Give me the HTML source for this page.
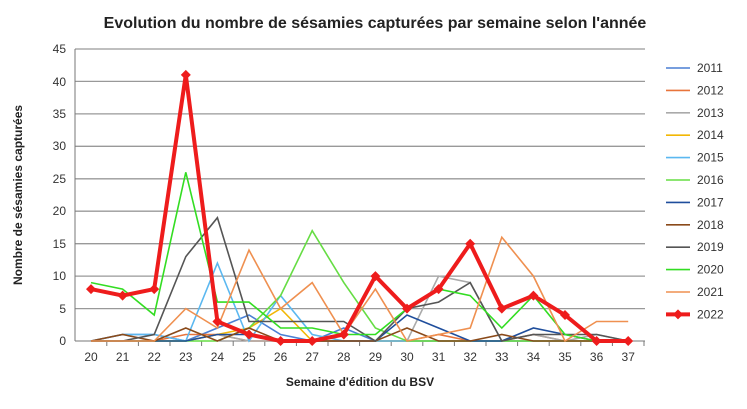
<!DOCTYPE html><html><head><meta charset="utf-8"><style>body{margin:0;background:#fff}svg{display:block}</style></head><body>
<svg width="747" height="409" xmlns="http://www.w3.org/2000/svg" font-family="Liberation Sans, sans-serif">
<text x="375" y="28" text-anchor="middle" font-size="16" font-weight="bold" fill="#222">Evolution du nombre de sésamies capturées par semaine selon l'année</text>
<g stroke="#999" stroke-width="1.3">
<line x1="75" y1="49" x2="645" y2="49"/><line x1="75" y1="81.4" x2="645" y2="81.4"/><line x1="75" y1="113.9" x2="645" y2="113.9"/><line x1="75" y1="146.3" x2="645" y2="146.3"/><line x1="75" y1="178.8" x2="645" y2="178.8"/><line x1="75" y1="211.2" x2="645" y2="211.2"/><line x1="75" y1="243.7" x2="645" y2="243.7"/><line x1="75" y1="276.1" x2="645" y2="276.1"/><line x1="75" y1="308.6" x2="645" y2="308.6"/>
</g>
<line x1="75" y1="49" x2="75" y2="341" stroke="#777"/><line x1="75" y1="341" x2="645" y2="341" stroke="#777"/>
<g font-size="12" fill="#333" text-anchor="end">
<text x="66" y="345">0</text><text x="66" y="313">5</text><text x="66" y="280">10</text><text x="66" y="248">15</text><text x="66" y="215">20</text><text x="66" y="183">25</text><text x="66" y="150">30</text><text x="66" y="118">35</text><text x="66" y="86">40</text><text x="66" y="53">45</text>
</g>
<g font-size="12" fill="#333" text-anchor="middle">
<text x="91" y="361">20</text><text x="122.6" y="361">21</text><text x="154.2" y="361">22</text><text x="185.8" y="361">23</text><text x="217.4" y="361">24</text><text x="249" y="361">25</text><text x="280.6" y="361">26</text><text x="312.2" y="361">27</text><text x="343.8" y="361">28</text><text x="375.4" y="361">29</text><text x="407" y="361">30</text><text x="438.6" y="361">31</text><text x="470.2" y="361">32</text><text x="501.8" y="361">33</text><text x="533.4" y="361">34</text><text x="565" y="361">35</text><text x="596.6" y="361">36</text><text x="628.2" y="361">37</text>
</g>
<g stroke="#777">
<line x1="106.8" y1="341" x2="106.8" y2="346"/><line x1="138.4" y1="341" x2="138.4" y2="346"/><line x1="170" y1="341" x2="170" y2="346"/><line x1="201.6" y1="341" x2="201.6" y2="346"/><line x1="233.2" y1="341" x2="233.2" y2="346"/><line x1="264.8" y1="341" x2="264.8" y2="346"/><line x1="296.4" y1="341" x2="296.4" y2="346"/><line x1="328" y1="341" x2="328" y2="346"/><line x1="359.6" y1="341" x2="359.6" y2="346"/><line x1="391.2" y1="341" x2="391.2" y2="346"/><line x1="422.8" y1="341" x2="422.8" y2="346"/><line x1="454.4" y1="341" x2="454.4" y2="346"/><line x1="486" y1="341" x2="486" y2="346"/><line x1="517.6" y1="341" x2="517.6" y2="346"/><line x1="549.2" y1="341" x2="549.2" y2="346"/><line x1="580.8" y1="341" x2="580.8" y2="346"/><line x1="612.4" y1="341" x2="612.4" y2="346"/><line x1="644" y1="341" x2="644" y2="346"/>
</g>
<text x="360" y="386" text-anchor="middle" font-size="12" font-weight="bold" fill="#222">Semaine d'édition du BSV</text>
<text transform="translate(22,195) rotate(-90)" text-anchor="middle" font-size="12" font-weight="bold" fill="#222">Nombre de sésamies capturées</text>
<g fill="none" stroke-width="1.6">
<polyline stroke="#4a7fd4" points="91,341 122.6,334.5 154.2,334.5 185.8,341 217.4,328 249,315 280.6,334.5 312.2,341 343.8,328 375.4,341 407,341 438.6,341 470.2,341 501.8,341 533.4,341 565,341 596.6,341 628.2,341"/>
<polyline stroke="#e8743b" points="91,341 122.6,341 154.2,341 185.8,334.5 217.4,334.5 249,341 280.6,341 312.2,341 343.8,341 375.4,341 407,341 438.6,334.5 470.2,341 501.8,341 533.4,334.5 565,341 596.6,341 628.2,341"/>
<polyline stroke="#aaa" points="91,341 122.6,341 154.2,341 185.8,341 217.4,334.5 249,341 280.6,341 312.2,341 343.8,341 375.4,341 407,341 438.6,276.1 470.2,282.6 501.8,341 533.4,334.5 565,341 596.6,334.5 628.2,341"/>
<polyline stroke="#f2b705" points="91,341 122.6,341 154.2,341 185.8,341 217.4,334.5 249,328 280.6,308.6 312.2,341 343.8,341 375.4,341 407,341 438.6,341 470.2,341 501.8,341 533.4,341 565,341 596.6,341 628.2,341"/>
<polyline stroke="#5bb8f0" points="91,341 122.6,334.5 154.2,334.5 185.8,341 217.4,263.1 249,341 280.6,295.6 312.2,334.5 343.8,341 375.4,341 407,341 438.6,341 470.2,341 501.8,341 533.4,341 565,341 596.6,341 628.2,341"/>
<polyline stroke="#66dd44" points="91,341 122.6,341 154.2,341 185.8,341 217.4,341 249,328 280.6,295.6 312.2,230.7 343.8,282.6 375.4,328 407,341 438.6,341 470.2,341 501.8,341 533.4,341 565,341 596.6,341 628.2,341"/>
<polyline stroke="#1f4e9c" points="91,341 122.6,341 154.2,341 185.8,341 217.4,334.5 249,334.5 280.6,341 312.2,341 343.8,341 375.4,341 407,315 438.6,328 470.2,341 501.8,341 533.4,328 565,334.5 596.6,341 628.2,341"/>
<polyline stroke="#8a4a1a" points="91,341 122.6,334.5 154.2,341 185.8,328 217.4,341 249,328 280.6,341 312.2,341 343.8,341 375.4,341 407,328 438.6,341 470.2,341 501.8,334.5 533.4,341 565,341 596.6,341 628.2,341"/>
<polyline stroke="#555" points="91,341 122.6,341 154.2,334.5 185.8,256.6 217.4,217.7 249,321.5 280.6,321.5 312.2,321.5 343.8,321.5 375.4,341 407,308.6 438.6,302.1 470.2,282.6 501.8,341 533.4,334.5 565,334.5 596.6,334.5 628.2,341"/>
<polyline stroke="#33dd22" points="91,282.6 122.6,289.1 154.2,315 185.8,172.3 217.4,302.1 249,302.1 280.6,328 312.2,328 343.8,334.5 375.4,334.5 407,308.6 438.6,289.1 470.2,295.6 501.8,328 533.4,295.6 565,334.5 596.6,341 628.2,341"/>
<polyline stroke="#ef9050" points="91,341 122.6,341 154.2,341 185.8,308.6 217.4,328 249,250.1 280.6,308.6 312.2,282.6 343.8,334.5 375.4,289.1 407,341 438.6,334.5 470.2,328 501.8,237.2 533.4,276.1 565,341 596.6,321.5 628.2,321.5"/>
<polyline stroke="#ee1c1c" stroke-width="4" points="91,289.1 122.6,295.6 154.2,289.1 185.8,74.9 217.4,321.5 249,334.5 280.6,341 312.2,341 343.8,334.5 375.4,276.1 407,308.6 438.6,289.1 470.2,243.7 501.8,308.6 533.4,295.6 565,315 596.6,341 628.2,341"/>
</g>
<g fill="#ee1c1c">
<path d="M91 284.1l5 5-5 5-5-5z"/><path d="M122.6 290.6l5 5-5 5-5-5z"/><path d="M154.2 284.1l5 5-5 5-5-5z"/><path d="M185.8 69.9l5 5-5 5-5-5z"/><path d="M217.4 316.5l5 5-5 5-5-5z"/><path d="M249 329.5l5 5-5 5-5-5z"/><path d="M280.6 336l5 5-5 5-5-5z"/><path d="M312.2 336l5 5-5 5-5-5z"/><path d="M343.8 329.5l5 5-5 5-5-5z"/><path d="M375.4 271.1l5 5-5 5-5-5z"/><path d="M407 303.6l5 5-5 5-5-5z"/><path d="M438.6 284.1l5 5-5 5-5-5z"/><path d="M470.2 238.7l5 5-5 5-5-5z"/><path d="M501.8 303.6l5 5-5 5-5-5z"/><path d="M533.4 290.6l5 5-5 5-5-5z"/><path d="M565 310l5 5-5 5-5-5z"/><path d="M596.6 336l5 5-5 5-5-5z"/><path d="M628.2 336l5 5-5 5-5-5z"/>
</g>
<g font-size="12" fill="#333" stroke-width="1.6">
<line x1="666" y1="68" x2="690" y2="68" stroke="#4a7fd4"/><text x="697" y="72">2011</text>
<line x1="666" y1="90.4" x2="690" y2="90.4" stroke="#e8743b"/><text x="697" y="94.4">2012</text>
<line x1="666" y1="112.8" x2="690" y2="112.8" stroke="#aaa"/><text x="697" y="116.8">2013</text>
<line x1="666" y1="135.2" x2="690" y2="135.2" stroke="#f2b705"/><text x="697" y="139.2">2014</text>
<line x1="666" y1="157.6" x2="690" y2="157.6" stroke="#5bb8f0"/><text x="697" y="161.6">2015</text>
<line x1="666" y1="180" x2="690" y2="180" stroke="#66dd44"/><text x="697" y="184">2016</text>
<line x1="666" y1="202.4" x2="690" y2="202.4" stroke="#1f4e9c"/><text x="697" y="206.4">2017</text>
<line x1="666" y1="224.8" x2="690" y2="224.8" stroke="#8a4a1a"/><text x="697" y="228.8">2018</text>
<line x1="666" y1="247.2" x2="690" y2="247.2" stroke="#555"/><text x="697" y="251.2">2019</text>
<line x1="666" y1="269.6" x2="690" y2="269.6" stroke="#33dd22"/><text x="697" y="273.6">2020</text>
<line x1="666" y1="292" x2="690" y2="292" stroke="#ef9050"/><text x="697" y="296">2021</text>
<line x1="666" y1="314.4" x2="690" y2="314.4" stroke="#ee1c1c" stroke-width="4"/><path d="M678 309.4l5 5-5 5-5-5z" fill="#ee1c1c"/><text x="697" y="318.4">2022</text>
</g>
</svg></body></html>
